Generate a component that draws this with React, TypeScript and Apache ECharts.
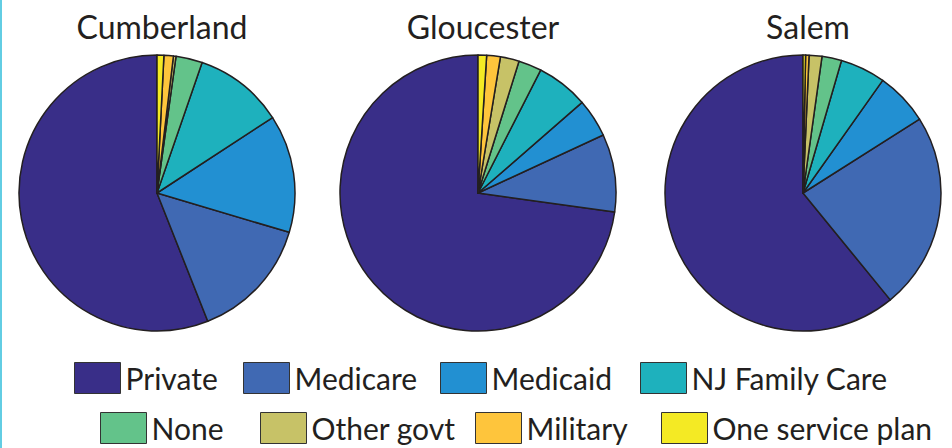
import React, { useEffect, useRef } from "react";
import * as echarts from "echarts";

const categories = [
  "Private",
  "Medicare",
  "Medicaid",
  "NJ Family Care",
  "None",
  "Other govt",
  "Military",
  "One service plan",
];
const counties = ["Cumberland", "Gloucester", "Salem"];
const cumberland = [56.0, 14.4, 13.8, 10.5, 3.1, 0.3, 1.1, 0.8];
const gloucester = [72.8, 9.1, 4.5, 6.1, 2.7, 2.2, 1.6, 1.0];
const salem = [60.9, 23.1, 6.2, 5.3, 2.3, 1.5, 0.4, 0.3];
const palette = [
  "#392e88",
  "#4069b3",
  "#2290d2",
  "#1eb1bd",
  "#63c38a",
  "#c7c267",
  "#fec53c",
  "#f4ea24",
];

const seriesValues = [cumberland, gloucester, salem];
const centersX = [157, 478, 803];
const legendPos = [
  [74, 362],
  [243, 362],
  [440, 362],
  [640, 362],
  [100, 412],
  [260, 412],
  [475, 412],
  [661, 412],
];

export default function App() {
  const ref = useRef<HTMLDivElement>(null);
  useEffect(() => {
    document.body.style.margin = "0";
    const chart = echarts.init(ref.current!, null, { renderer: "svg" });
    const legendFont = {
      fontSize: 30,
      lineHeight: 31,
      fontFamily: "Lato, sans-serif",
      color: "#231f20",
    };
    chart.setOption({
      animation: false,
      color: palette,
      title: counties.map((c, i) => ({
        text: c,
        left: centersX[i],
        top: 5,
        textAlign: "center",
        textStyle: {
          fontSize: 32,
          fontWeight: "normal",
          fontFamily: "Lato, sans-serif",
          color: "#231f20",
        },
      })),
      legend: categories.map((name, i) => ({
        data: [name],
        left: legendPos[i][0],
        top: legendPos[i][1],
        padding: 0,
        itemWidth: 46,
        itemHeight: 31,
        icon: "rect",
        selectedMode: false,
        itemStyle: { borderColor: "#333", borderWidth: 1 },
        textStyle: legendFont,
      })),
      graphic: [
        {
          type: "rect",
          shape: { x: 0, y: 0, width: 2, height: 448 },
          style: { fill: "#62cde3" },
        },
      ],
      series: seriesValues.map((vals, i) => ({
        type: "pie",
        name: counties[i],
        center: [centersX[i], 193],
        radius: 138,
        startAngle: 90,
        clockwise: false,
        label: { show: false },
        labelLine: { show: false },
        emphasis: { disabled: true },
        itemStyle: { borderColor: "#231f20", borderWidth: 1.5 },
        data: categories.map((name, j) => ({ name, value: vals[j] })),
      })),
    });
    return () => chart.dispose();
  }, []);
  return <div ref={ref} style={{ width: 952, height: 448 }} />;
}
